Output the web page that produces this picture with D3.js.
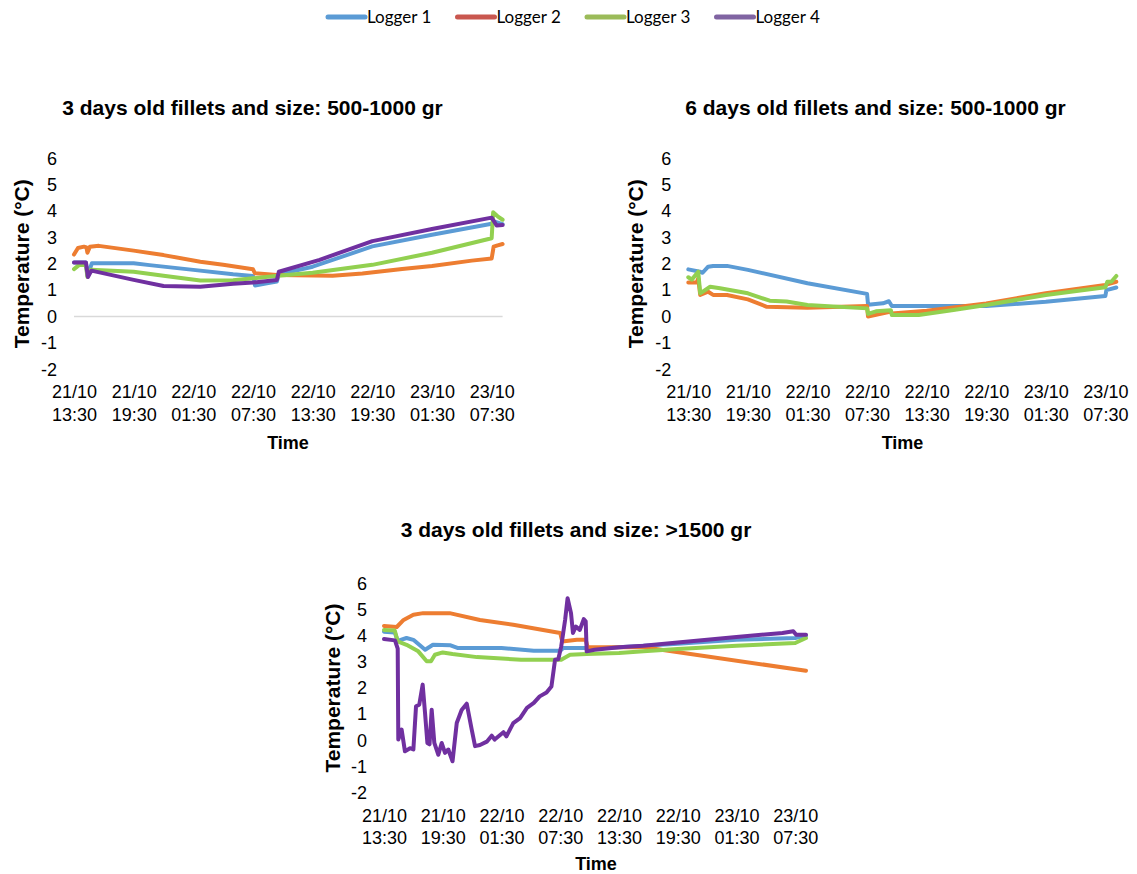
<!DOCTYPE html>
<html>
<head>
<meta charset="utf-8">
<script src="https://cdn.jsdelivr.net/npm/d3@7"></script>
<style>
  html, body { margin: 0; padding: 0; background: #fff; }
  svg { display: block; }
</style>
</head>
<body>
<svg id="chart" width="1137" height="874"></svg>
<script>
// Temperature logger readings; time is hours elapsed since 21/10 13:30.
const loggerNames = ["Logger 1", "Logger 2", "Logger 3", "Logger 4"];
const tickHours = [0, 6, 12, 18, 24, 30, 36, 42];
const tickDates = ["21/10", "21/10", "22/10", "22/10", "22/10", "22/10", "23/10", "23/10"];
const tickTimes = ["13:30", "19:30", "01:30", "07:30", "13:30", "19:30", "01:30", "07:30"];
const tempTicks = [-2, -1, 0, 1, 2, 3, 4, 5, 6];
const panelTitles = [
  "3 days old fillets and size: 500-1000 gr",
  "6 days old fillets and size: 500-1000 gr",
  "3 days old fillets and size: >1500 gr"
];

// Panel 1: 3 days old, 500-1000 gr
const p1Logger1 = [[0,2.05],[1.2,2.05],[1.35,1.55],[1.8,2.02],[6,2.02],[7.6,1.95],[12,1.77],[16,1.6],[18,1.54],[18.2,1.18],[19.4,1.26],[20.4,1.33],[20.6,1.6],[24,1.89],[30,2.66],[36,3.1],[42,3.52],[42.3,3.6],[43.1,3.5]];
const p1Logger2 = [[0,2.35],[0.4,2.6],[1.0,2.65],[1.25,2.62],[1.35,2.42],[1.6,2.65],[2.5,2.68],[6,2.5],[9,2.33],[12.7,2.08],[15,1.96],[18,1.79],[18.2,1.64],[20.4,1.58],[26,1.55],[29,1.63],[33,1.8],[36,1.92],[40,2.12],[42,2.2],[42.2,2.65],[42.6,2.7],[43.1,2.75]];
const p1Logger3 = [[0,1.8],[0.5,1.95],[1.2,1.95],[1.35,1.5],[1.7,1.77],[6,1.7],[9,1.55],[12.7,1.37],[16,1.38],[18,1.45],[20.5,1.55],[24,1.66],[30,1.96],[36,2.42],[42,2.97],[42.15,3.95],[42.6,3.8],[43.1,3.67]];
const p1Logger4 = [[0,2.05],[1.2,2.05],[1.4,1.5],[1.75,1.74],[6,1.39],[9,1.16],[12.7,1.13],[16,1.24],[18,1.29],[20.4,1.39],[20.6,1.7],[24.7,2.15],[30,2.86],[36,3.32],[42,3.75],[42.5,3.45],[43.1,3.47]];

// Panel 2: 6 days old, 500-1000 gr
const p2Logger1 = [[0,1.79],[1.17,1.7],[1.44,1.66],[2.0,1.89],[2.5,1.92],[3.9,1.92],[6,1.77],[12,1.26],[18,0.86],[18.1,0.45],[19.6,0.5],[20.2,0.58],[20.5,0.4],[30,0.4],[36,0.56],[42,0.78],[42.1,1.0],[43.1,1.1]];
const p2Logger2 = [[0,1.29],[0.85,1.29],[1.0,1.45],[1.2,0.82],[2,0.94],[2.5,0.82],[3.9,0.82],[6,0.65],[7.9,0.37],[12,0.33],[18,0.4],[18.1,0.0],[19.6,0.12],[20.3,0.18],[20.5,0.12],[24,0.22],[30,0.5],[36,0.88],[42,1.2],[43.1,1.32]];
const p2Logger3 = [[0,1.49],[0.35,1.4],[1.0,1.7],[1.2,0.88],[2.2,1.13],[3.2,1.07],[6,0.88],[8.2,0.6],[9.9,0.57],[12,0.44],[18,0.31],[18.1,0.1],[18.9,0.2],[20.4,0.24],[20.5,0.06],[23.2,0.06],[26.7,0.25],[30,0.44],[36,0.82],[42,1.11],[42.2,1.32],[42.6,1.32],[43.1,1.54]];
const p2Logger4 = [];

// Panel 3: 3 days old, >1500 gr
const p3Logger1 = [[0,4.15],[1.1,4.12],[1.4,3.8],[2.3,3.91],[3.0,3.84],[4.2,3.46],[5.0,3.65],[6.8,3.63],[7.5,3.53],[12,3.53],[15.3,3.42],[18,3.42],[18.3,3.53],[20.6,3.53],[20.8,3.49],[24,3.56],[30,3.69],[36,3.84],[42,3.91],[43.1,4.0]];
const p3Logger2 = [[0,4.37],[1.3,4.33],[2.0,4.6],[3.0,4.8],[4.0,4.86],[6.7,4.86],[9.8,4.6],[13.2,4.42],[18.0,4.1],[18.2,3.78],[19.7,3.84],[20.6,3.84],[20.8,3.56],[26.5,3.56],[28.5,3.45],[43.1,2.66]];
const p3Logger3 = [[0,4.22],[1.1,4.2],[1.4,3.78],[2.3,3.65],[3.5,3.4],[4.36,3.02],[4.8,3.02],[5.2,3.27],[6.0,3.36],[7.0,3.3],[9.5,3.18],[14,3.08],[18.1,3.08],[19.0,3.27],[20.7,3.3],[24,3.34],[26.5,3.4],[30,3.49],[36,3.61],[42,3.72],[43.1,3.91]];
const p3Logger4 = [[0,3.87],[1.12,3.82],[1.4,3.5],[1.46,0.03],[1.8,0.41],[2.14,-0.42],[2.66,-0.3],[3.0,-0.35],[3.27,1.3],[3.6,1.36],[3.95,2.13],[4.19,1.05],[4.43,-0.1],[4.65,-0.15],[4.87,1.17],[5.14,-0.1],[5.55,-0.55],[5.89,-0.1],[6.23,-0.48],[6.57,-0.35],[7.0,-0.8],[7.43,0.66],[7.93,1.16],[8.45,1.4],[8.96,0.41],[9.3,-0.22],[9.8,-0.18],[10.5,-0.05],[11.0,0.18],[11.3,0.03],[12.2,0.31],[12.5,0.15],[13.2,0.66],[13.9,0.85],[14.6,1.24],[15.3,1.43],[15.9,1.68],[16.6,1.83],[17.1,2.06],[17.47,3.08],[17.8,3.1],[18.1,3.59],[18.5,4.61],[18.75,5.43],[19.1,4.86],[19.3,4.1],[19.6,4.35],[20.0,4.22],[20.4,4.63],[20.6,4.55],[20.7,3.4],[21.5,3.46],[24,3.56],[26.5,3.61],[30,3.74],[36,3.95],[40.7,4.1],[41.8,4.17],[42.1,4.03],[43.1,4.03]];

const lineColors = ["#5B9BD5", "#ED7D31", "#92D050", "#7030A0"];
const legendColors = ["#5B9BD5", "#C9574F", "#9BBB59", "#8064A2"];
const endHour = 43.1;

const panels = [
  { title: panelTitles[0], series: [p1Logger1, p1Logger2, p1Logger3, p1Logger4],
    x0: 74, x1: 502.6, yTop: 158.3, yBot: 369.3, titleX: 252.5, titleY: 108, yTitleX: 22, timeX: 288, timeY: 442.5, zeroLine: true },
  { title: panelTitles[1], series: [p2Logger1, p2Logger2, p2Logger3, p2Logger4],
    x0: 688.3, x1: 1116.3, yTop: 158.3, yBot: 369.3, titleX: 875.5, titleY: 108, yTitleX: 636, timeX: 902.5, timeY: 442.5, zeroLine: false },
  { title: panelTitles[2], series: [p3Logger1, p3Logger2, p3Logger3, p3Logger4],
    x0: 384, x1: 806, yTop: 583.3, yBot: 792.7, titleX: 576, titleY: 530, yTitleX: 333, timeX: 596, timeY: 863.5, zeroLine: false }
];

const svg = d3.select("#chart");
const font = "'Liberation Sans', Arial, sans-serif";

panels.forEach(p => {
  const x = d3.scaleLinear().domain([0, endHour]).range([p.x0, p.x1]);
  const y = d3.scaleLinear().domain([-2, 6]).range([p.yBot, p.yTop]);
  const g = svg.append("g");

  if (p.zeroLine) {
    g.append("line")
      .attr("x1", x(0)).attr("x2", x(endHour))
      .attr("y1", y(0)).attr("y2", y(0))
      .attr("stroke", "#D9D9D9").attr("stroke-width", 1.5);
  }

  // value axis
  const ya = g.append("g")
    .attr("transform", `translate(${p.x0},0)`)
    .call(d3.axisLeft(y).tickValues(tempTicks).tickSize(0).tickPadding(17).tickFormat(d => String(d)));
  ya.select(".domain").remove();
  ya.selectAll("text").attr("font-family", font).attr("font-size", 18).attr("fill", "#000");

  // time axis with two-line labels
  const xa = g.append("g")
    .attr("transform", `translate(0,${p.yBot})`)
    .call(d3.axisBottom(x).tickValues(tickHours).tickSize(0).tickFormat(""));
  xa.select(".domain").remove();
  xa.selectAll(".tick").each(function(d, i) {
    const t = d3.select(this).append("text")
      .attr("font-family", font).attr("font-size", 18).attr("fill", "#000")
      .attr("text-anchor", "middle");
    t.append("tspan").attr("x", 0).attr("y", 29).text(tickDates[i]);
    t.append("tspan").attr("x", 0).attr("y", 51.5).text(tickTimes[i]);
  });

  // titles
  g.append("text")
    .attr("x", p.titleX).attr("y", p.titleY).attr("dy", "0.35em")
    .attr("text-anchor", "middle")
    .attr("font-family", font).attr("font-weight", "bold").attr("font-size", 21)
    .text(p.title);
  g.append("text")
    .attr("transform", `translate(${p.yTitleX},${(p.yTop + p.yBot) / 2}) rotate(-90)`)
    .attr("dy", "0.35em").attr("text-anchor", "middle")
    .attr("font-family", font).attr("font-weight", "bold").attr("font-size", 21)
    .text("Temperature (°C)");
  g.append("text")
    .attr("x", p.timeX).attr("y", p.timeY).attr("dy", "0.35em")
    .attr("text-anchor", "middle")
    .attr("font-family", font).attr("font-weight", "bold").attr("font-size", 18)
    .text("Time");

  const line = d3.line().x(d => x(d[0])).y(d => y(d[1]));
  p.series.forEach((s, i) => {
    if (!s.length) return;
    g.append("path")
      .datum(s)
      .attr("d", line)
      .attr("fill", "none")
      .attr("stroke", lineColors[i])
      .attr("stroke-width", 4)
      .attr("stroke-linejoin", "round")
      .attr("stroke-linecap", "round");
  });
});

// legend
const legend = svg.append("g").attr("transform", "translate(326,17)");
loggerNames.forEach((name, i) => {
  const item = legend.append("g").attr("transform", `translate(${i * 129.5},0)`);
  item.append("line")
    .attr("x1", 2).attr("x2", 39).attr("y1", 0).attr("y2", 0)
    .attr("stroke", legendColors[i]).attr("stroke-width", 5)
    .attr("stroke-linecap", "round");
  item.append("text")
    .attr("x", 41).attr("y", 0).attr("dy", "0.35em")
    .attr("font-family", "Lato, 'Open Sans', sans-serif").attr("font-size", 17)
    .attr("fill", "#000")
    .text(name);
});
</script>
</body>
</html>
